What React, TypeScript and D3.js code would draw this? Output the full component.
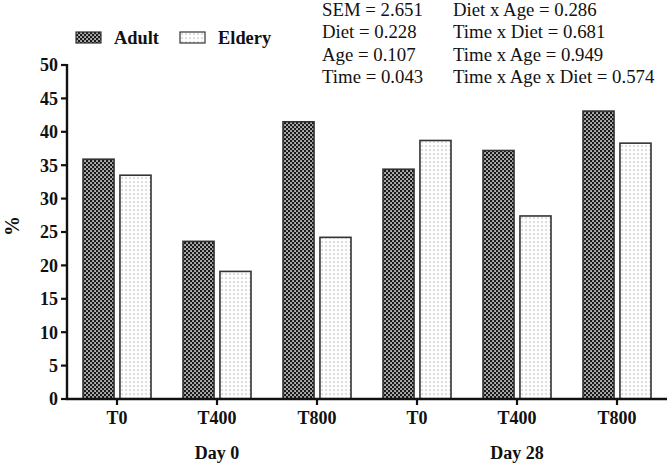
import React from "react";
import * as d3 from "d3";

const days = ["Day 0", "Day 28"];
const times = ["T0", "T400", "T800"];
const seriesNames = ["Adult", "Eldery"];
const adultValues = [35.9, 23.6, 41.5, 34.4, 37.2, 43.1];
const elderyValues = [33.5, 19.1, 24.2, 38.7, 27.4, 38.3];
const yTicks = [0, 5, 10, 15, 20, 25, 30, 35, 40, 45, 50];
const statsLeft = ["SEM = 2.651", "Diet = 0.228", "Age = 0.107", "Time = 0.043"];
const statsRight = [
  "Diet x Age = 0.286",
  "Time x Diet = 0.681",
  "Time x Age = 0.949",
  "Time x Age x Diet = 0.574",
];

const W = 670;
const H = 468;
const FONT = "Liberation Serif, Times New Roman, Times, serif";

export default function App() {
  const groups = days.flatMap((d) => times.map((t) => `${d}|${t}`));
  const x0 = d3.scaleBand<string>().domain(groups).range([67, 667]).paddingInner(0).paddingOuter(0);
  const x1 = d3.scaleBand<string>().domain(seriesNames).range([16, 84]).paddingInner(0.16);
  const y = d3.scaleLinear().domain([0, 50]).range([399, 65]);
  const values = [adultValues, elderyValues];
  const fills = ["url(#checker)", "url(#dots)"];
  const txt = { fontFamily: FONT } as React.CSSProperties;

  return (
    <svg
      width={W}
      height={H}
      viewBox={`0 0 ${W} ${H}`}
      style={{ position: "absolute", left: 0, top: 0, background: "#fff", fontFamily: FONT }}
    >
      <defs>
        <pattern id="checker" width={4} height={4} patternUnits="userSpaceOnUse">
          <rect x={0} y={0} width={4} height={4} fill="#1a1a1a" />
          <rect x={0.25} y={0.25} width={1.6} height={1.6} fill="#f2f2f2" />
          <rect x={2.25} y={2.25} width={1.6} height={1.6} fill="#f2f2f2" />
        </pattern>
        <pattern id="dots" width={4} height={4} patternUnits="userSpaceOnUse">
          <rect x={0} y={0} width={4} height={4} fill="#fdfdfd" />
          <rect x={1.5} y={1.5} width={1.1} height={1.1} fill="#9a9a9a" />
        </pattern>
      </defs>

      {groups.map((g, i) =>
        seriesNames.map((s, si) => {
          const v = values[si][i];
          const bx = (x0(g) as number) + (x1(s) as number);
          return (
            <rect
              key={`${g}-${s}`}
              x={bx}
              y={y(v)}
              width={x1.bandwidth()}
              height={y(0) - y(v)}
              fill={fills[si]}
              stroke="#333"
              strokeWidth={1.6}
            />
          );
        })
      )}

      <line x1={67} x2={67} y1={y(50) - 1} y2={y(0) + 1} stroke="#111" strokeWidth={2.4} />
      {yTicks.map((t) => (
        <g key={t}>
          <line x1={61} x2={67} y1={y(t)} y2={y(t)} stroke="#111" strokeWidth={2.2} />
          <text
            x={58}
            y={y(t)}
            dy="0.35em"
            textAnchor="end"
            fontSize={18}
            fontWeight="bold"
            fill="#111"
            style={txt}
          >
            {t}
          </text>
        </g>
      ))}

      <line x1={66} x2={667} y1={y(0)} y2={y(0)} stroke="#111" strokeWidth={2.4} />
      {groups.map((g, i) => {
        const cx = (x0(g) as number) + x0.bandwidth() / 2;
        return (
          <g key={g}>
            <line x1={cx} x2={cx} y1={y(0)} y2={y(0) + 6} stroke="#111" strokeWidth={2.2} />
            <text x={cx} y={424} textAnchor="middle" fontSize={18} fontWeight="bold" fill="#111" style={txt}>
              {times[i % times.length]}
            </text>
          </g>
        );
      })}
      {days.map((d) => {
        const first = x0(`${d}|${times[0]}`) as number;
        const last = (x0(`${d}|${times[times.length - 1]}`) as number) + x0.bandwidth();
        return (
          <text
            key={d}
            x={(first + last) / 2}
            y={459}
            textAnchor="middle"
            fontSize={18}
            fontWeight="bold"
            fill="#111"
            style={txt}
          >
            {d}
          </text>
        );
      })}

      <text
        transform={`translate(19, 226) rotate(-90)`}
        textAnchor="middle"
        fontSize={20}
        fontWeight="bold"
        fill="#111"
        style={txt}
      >
        %
      </text>

      {seriesNames.map((s, si) => {
        const lx = [76, 180][si];
        return (
          <g key={s}>
            <rect x={lx} y={32} width={25} height={11} fill={fills[si]} stroke="#333" strokeWidth={1.2} />
            <text x={lx + 38} y={44} fontSize={18.4} fontWeight="bold" fill="#111" style={txt}>
              {s}
            </text>
          </g>
        );
      })}

      {statsLeft.map((s, i) => (
        <text key={s} x={322} y={16 + i * 22.4} fontSize={18.8} fill="#111" style={txt}>
          {s}
        </text>
      ))}
      {statsRight.map((s, i) => (
        <text key={s} x={453} y={16 + i * 22.4} fontSize={18.8} fill="#111" style={txt}>
          {s}
        </text>
      ))}
    </svg>
  );
}
